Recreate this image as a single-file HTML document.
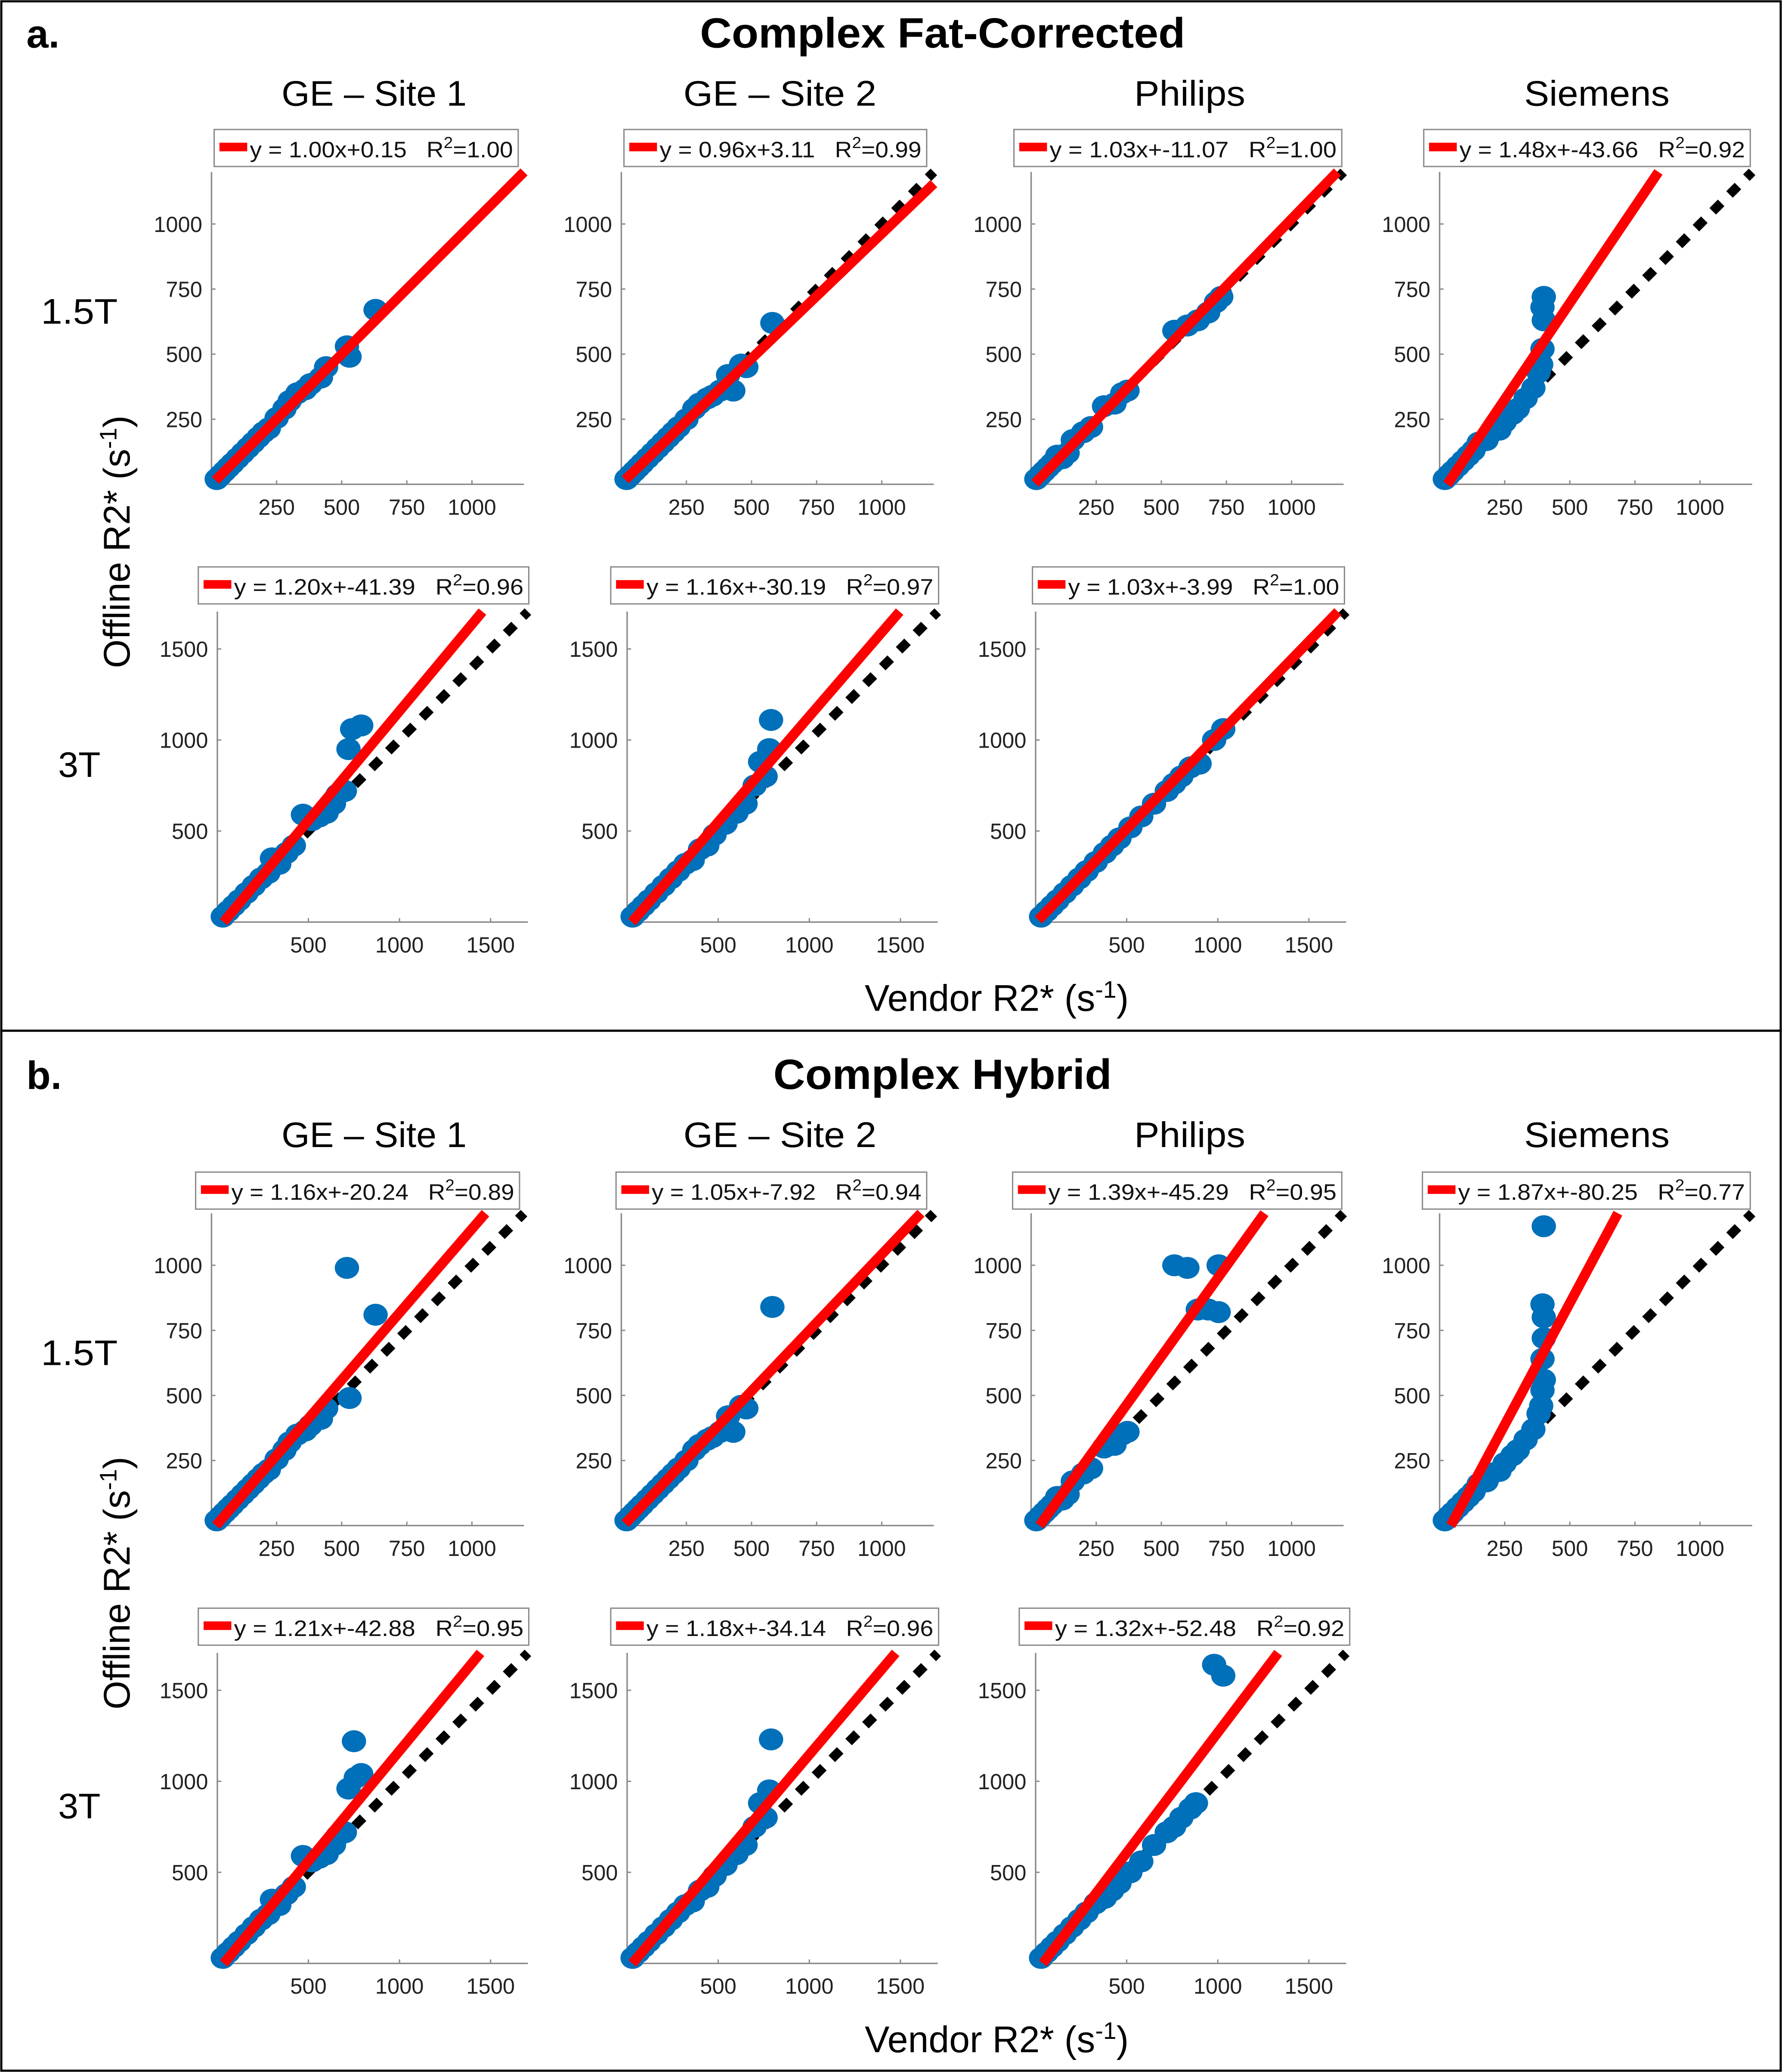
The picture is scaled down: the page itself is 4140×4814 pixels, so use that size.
<!DOCTYPE html>
<html><head><meta charset="utf-8"><style>
html,body{margin:0;padding:0;background:#fff;}
svg{display:block;}
.tick{font-family:"Liberation Sans",sans-serif;font-size:16.5px;fill:#222;}
.leg{font-family:"Liberation Sans",sans-serif;font-size:17px;fill:#111;white-space:pre;}
.cal{font-family:"Liberation Sans",sans-serif;fill:#000;}
</style></head><body>
<svg id="fig" xmlns="http://www.w3.org/2000/svg" width="4140" height="4814" viewBox="0 0 1348 1568" preserveAspectRatio="none">
<rect x="0" y="0" width="1348" height="1568" fill="#fff"/>
<rect x="1" y="1" width="1346" height="779" fill="none" stroke="#000" stroke-width="1.6"/>
<rect x="1" y="780" width="1346" height="787" fill="none" stroke="#000" stroke-width="1.6"/>
<g id="plots"></g>
</svg>
<script>
// ---- data (vendor R2* = x, offline R2* = y) ----
const aGE1_15_vendor  = [20,35,50,65,80,100,120,140,160,180,200,220,250,280,300,330,360,380,420,440,520,530,630];
const aGE1_15_offline = [20,35,50,65,80,100,120,140,160,180,200,215,255,290,320,350,365,385,410,450,530,490,670];
const aGE2_15_vendor  = [20,35,50,65,80,100,120,140,160,180,200,220,250,280,300,330,350,380,410,430,460,480,580];
const aGE2_15_offline = [20,35,50,65,80,100,120,140,160,180,200,220,250,290,310,330,340,360,420,360,460,450,620];
const aPhi_15_vendor  = [20,35,50,65,80,100,120,140,160,200,230,280,320,350,370,550,600,640,680,710,730];
const aPhi_15_offline = [20,35,50,65,80,110,100,120,170,200,220,300,310,350,360,590,610,630,660,700,720];
const aSie_15_vendor  = [20,35,50,70,90,110,130,150,180,200,230,250,280,300,330,360,380,390,395,400,395,400];
const aSie_15_offline = [20,35,50,70,90,110,130,160,170,200,210,240,270,290,330,370,430,460,520,630,680,720];
const aGE1_3_vendor   = [30,60,90,120,160,200,240,280,300,340,380,420,470,520,560,600,640,660,700,720,740,790];
const aGE1_3_offline  = [30,60,90,120,160,200,240,270,350,320,380,420,590,560,580,600,650,700,720,950,1060,1080];
const aGE2_3_vendor   = [30,60,90,120,160,200,240,280,320,360,400,440,480,540,600,650,700,730,760,780,790];
const aGE2_3_offline  = [30,60,90,120,160,200,240,280,320,340,400,420,480,540,600,650,750,880,800,950,1110];
const aPhi_3_vendor   = [30,60,90,120,160,200,240,280,330,380,420,460,520,580,650,720,760,800,850,900,980,1030];
const aPhi_3_offline  = [30,60,90,120,160,200,240,280,330,380,420,460,520,580,650,720,760,800,850,870,1000,1060];
const bGE1_15_vendor  = [20,35,50,65,80,100,120,140,160,180,200,220,250,280,300,330,360,380,420,440,520,530,630];
const bGE1_15_offline = [20,35,50,65,80,100,120,140,160,180,200,215,255,290,320,350,365,385,410,450,990,490,810];
const bGE2_15_vendor  = [20,35,50,65,80,100,120,140,160,180,200,220,250,280,300,330,350,380,410,430,460,480,580];
const bGE2_15_offline = [20,35,50,65,80,100,120,140,160,180,200,220,250,290,310,330,340,360,420,360,460,450,840];
const bPhi_15_vendor  = [20,35,50,65,80,100,120,140,160,200,230,280,320,350,370,550,600,640,680,720,720];
const bPhi_15_offline = [20,35,50,65,80,110,100,120,170,200,220,300,310,350,360,1000,990,830,830,1000,820];
const bSie_15_vendor  = [20,35,50,70,90,110,130,150,180,200,230,250,280,300,330,360,380,390,395,400,395,400,400,395,400];
const bSie_15_offline = [20,35,50,70,90,110,130,160,170,200,210,240,270,290,330,370,430,460,520,560,640,720,800,850,1150];
const bGE1_3_vendor   = [30,60,90,120,160,200,240,280,300,340,380,420,470,520,560,600,640,660,700,720,760,790,750];
const bGE1_3_offline  = [30,60,90,120,160,200,240,270,350,320,380,420,590,560,580,600,650,700,720,960,1020,1040,1220];
const bGE2_3_vendor   = [30,60,90,120,160,200,240,280,320,360,400,440,480,540,600,650,700,730,760,780,790];
const bGE2_3_offline  = [30,60,90,120,160,200,240,280,320,340,400,420,480,540,600,650,750,880,800,950,1230];
const bPhi_3_vendor   = [30,60,90,120,160,200,240,280,330,380,420,460,520,580,650,720,760,800,850,880,980,1030];
const bPhi_3_offline  = [30,60,90,120,160,200,240,280,330,360,400,440,500,560,650,720,750,800,850,880,1640,1580];
// fits: slope, intercept, R2
const fitSlopes     = [1.00,0.96,1.03,1.48,1.20,1.16,1.03, 1.16,1.05,1.39,1.87,1.21,1.18,1.32];
const fitIntercepts = [0.15,3.11,-11.07,-43.66,-41.39,-30.19,-3.99, -20.24,-7.92,-45.29,-80.25,-42.88,-34.14,-52.48];
const fitR2         = ["1.00","0.99","1.00","0.92","0.96","0.97","1.00", "0.89","0.94","0.95","0.77","0.95","0.96","0.92"];
const ticks15 = [250,500,750,1000];
const ticks3  = [500,1000,1500];
const colTitles = ["GE – Site 1","GE – Site 2","Philips","Siemens"];

const NS="http://www.w3.org/2000/svg";
const root=document.getElementById('plots');
function mk(tag,attrs,parent){const e=document.createElementNS(NS,tag);for(const k in attrs)e.setAttribute(k,attrs[k]);(parent||root).appendChild(e);return e;}

const series=[
 [aGE1_15_vendor,aGE1_15_offline],[aGE2_15_vendor,aGE2_15_offline],[aPhi_15_vendor,aPhi_15_offline],[aSie_15_vendor,aSie_15_offline],
 [aGE1_3_vendor,aGE1_3_offline],[aGE2_3_vendor,aGE2_3_offline],[aPhi_3_vendor,aPhi_3_offline],
 [bGE1_15_vendor,bGE1_15_offline],[bGE2_15_vendor,bGE2_15_offline],[bPhi_15_vendor,bPhi_15_offline],[bSie_15_vendor,bSie_15_offline],
 [bGE1_3_vendor,bGE1_3_offline],[bGE2_3_vendor,bGE2_3_offline],[bPhi_3_vendor,bPhi_3_offline]];
// layout: [panel dy, row(0=1.5T,1=3T), col, legend left, legend right]
const layout=[
 [0,0,0,162,392],[0,0,1,472,701],[0,0,2,767,1015],[0,0,3,1077,1324],
 [0,1,0,150,400],[0,1,1,462,710],[0,1,2,781,1017],
 [788,0,0,148,393],[788,0,1,466,701],[788,0,2,766,1015],[788,0,3,1076,1324],
 [788,1,0,150,400],[788,1,1,462,710],[788,1,2,771,1021]];
const colOff=[0,310,620,929];
const SP3='\u00a0\u00a0\u00a0';

layout.forEach((L,i)=>{
  const [dy,row,col,lx1,lx2]=L;
  const g=mk('g',{});
  
  
  let x0,y0,sc,max,ticks;
  if(row===0){x0=160+colOff[col];y0=366.5+dy;sc=0.197;max=1200;ticks=ticks15;}
  else{x0=164.4+(col===0?0:col===1?310:619);y0=697.8+dy;sc=0.1378;max=1705;ticks=ticks3;}
  const X=v=>x0+v*sc, Y=v=>y0-v*sc;
  const ax=mk('path',{d:`M${X(0)},${Y(max)} L${X(0)},${Y(0)} L${X(max)},${Y(0)}`,fill:'none',stroke:'#8a8a8a','stroke-width':1.1},g);
  
  
  ticks.forEach(t=>{
    mk('line',{x1:X(t),x2:X(t),y1:Y(0),y2:Y(0)-3,stroke:'#8a8a8a','stroke-width':1},g);
    mk('line',{x1:X(0),x2:X(0)+3,y1:Y(t),y2:Y(t),stroke:'#8a8a8a','stroke-width':1},g);
    const tx=mk('text',{x:X(t),y:Y(0)+23,'text-anchor':'middle',class:'tick'},g);tx.textContent=t;
    
    
    const ty=mk('text',{x:X(0)-7,y:Y(t)+6,'text-anchor':'end',class:'tick'},g);ty.textContent=t;
    
    
  });
  const idl=mk('line',{x1:X(15),y1:Y(15),x2:X(max),y2:Y(max),stroke:'#000','stroke-width':7,'stroke-dasharray':'9 9'},g);
  
  
  const [vx,vy]=series[i];
  vx.forEach((v,k)=>{
    const c=mk('ellipse',{cx:X(v),cy:Y(vy[k]),rx:9.2,ry:8.3,fill:'#0070BA'},g);
    
    
  });
  const m=fitSlopes[i],b=fitIntercepts[i];
  let xs=Math.max(15,-b/m); let xe=Math.min(max,(max-b)/m);
  const fl=mk('line',{x1:X(xs),y1:Y(m*xs+b),x2:X(xe),y2:Y(m*xe+b),stroke:'#ff0000','stroke-width':7.5},g);
  
  
  const ly=(row===0?98:429)+dy-(row===0&&dy?(98+788-887):0);
  const lg=mk('g',{},g);
  
  
  mk('rect',{x:lx1,y:ly,width:lx2-lx1,height:28,fill:'#fff',stroke:'#8a8a8a','stroke-width':1},lg);
  mk('rect',{x:lx1+4,y:ly+10,width:21,height:6.5,fill:'#ff0000'},lg);
  const t=mk('text',{x:lx1+27,y:ly+21,class:'leg',textLength:(lx2-lx1-31),lengthAdjust:'spacingAndGlyphs'},lg);
  const bs='+'+b.toFixed(2);
  t.appendChild(document.createTextNode('y = '+m.toFixed(2)+'x'+bs+SP3+'R'));
  const sp=mk('tspan',{dy:-7,'font-size':12},t);sp.textContent='2';
  const sp2=mk('tspan',{dy:7},t);sp2.textContent='='+fitR2[i];
});

function txt(s,a,name){const e=mk('text',a);e.textContent=s;return e;}
[0,788].forEach((dy,p)=>{
  txt(p?'b.':'a.',{x:20,y:36+dy,class:'cal','font-size':30,'font-weight':'bold'},'panel-label');
  txt(p?'Complex Hybrid':'Complex Fat-Corrected',{x:713,y:36+dy,class:'cal','font-size':32,'font-weight':'bold','text-anchor':'middle',textLength:p?256:367,lengthAdjust:'spacingAndGlyphs'},'panel-title');
  const cx=[283,590,900,1208],cw=[140,146,84,110];
  colTitles.forEach((c,k)=>txt(c,{x:cx[k],y:80+dy,class:'cal','font-size':27,'text-anchor':'middle',textLength:cw[k],lengthAdjust:'spacingAndGlyphs'},'column-title'));
  txt('1.5T',{x:60,y:245+dy,class:'cal','font-size':27,'text-anchor':'middle',textLength:58,lengthAdjust:'spacingAndGlyphs'},'row-label-1-5t');
  txt('3T',{x:60,y:588+dy,class:'cal','font-size':27,'text-anchor':'middle',textLength:32,lengthAdjust:'spacingAndGlyphs'},'row-label-3t');
  const yl=txt('',{x:0,y:0,class:'cal','font-size':28,'text-anchor':'middle',transform:`translate(98,${410+dy}) rotate(-90)`},'y-axis-title');
  yl.appendChild(document.createTextNode('Offline R2* (s'));
  let s=mk('tspan',{dy:-10,'font-size':18},yl);s.textContent='-1';
  s=mk('tspan',{dy:10},yl);s.textContent=')';
  const xl=txt('',{x:754,y:765+dy,class:'cal','font-size':28,'text-anchor':'middle'},'x-axis-title');
  xl.appendChild(document.createTextNode('Vendor R2* (s'));
  s=mk('tspan',{dy:-10,'font-size':18},xl);s.textContent='-1';
  s=mk('tspan',{dy:10},xl);s.textContent=')';
});
</script>
</body></html>
